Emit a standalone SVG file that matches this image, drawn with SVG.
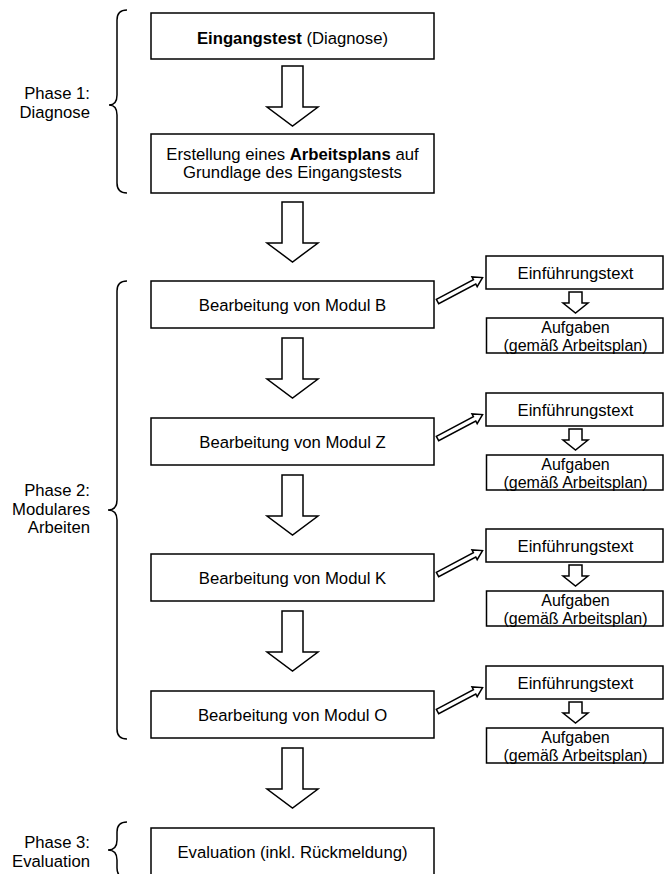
<svg xmlns="http://www.w3.org/2000/svg" width="665" height="874" viewBox="0 0 665 874">
<style>
text{font-family:"Liberation Sans",Arial,sans-serif;font-size:16.7px;fill:#000}
.c{text-anchor:middle}
.r{text-anchor:end}
.b{font-weight:bold}
.s{font-size:16px}
.box{fill:#fff;stroke:#000;stroke-width:1.5}
.arr{fill:#fff;stroke:#000;stroke-width:1.5;stroke-linejoin:miter}
.br{fill:none;stroke:#000;stroke-width:1.5}
</style>
<defs>
<polygon id="bigArrow" class="arr" points="282,0 303,0 303,41 318,41 292.5,60 267,41 282,41"/>
<polygon id="smallArrow" class="arr" points="569,292 582,292 582,303 588,303 575.5,313 563,303 569,303"/>
<polygon id="diagArrow" class="arr" points="0,-2.5 42,-2.5 42,-5.5 51,0 42,5.5 42,2.5 0,2.5"/>
</defs>
<rect width="665" height="874" fill="#fff"/>

<g id="phase1">
<path class="br" d="M127,10 Q117,10 117,20 L117,95 Q117,105 109,105 Q117,105 117,115 L117,183 Q117,193 127,193"/>
<text class="r" x="90" y="99">Phase 1:<tspan x="90" dy="19">Diagnose</tspan></text>
</g>
<g id="phase2">
<path class="br" d="M127,281 Q117,281 117,291 L117,500 Q117,510 108,510 Q117,510 117,520 L117,729 Q117,739 127,739"/>
<text class="r" x="90" y="496">Phase 2:<tspan x="90" dy="19">Modulares</tspan><tspan x="90" dy="18">Arbeiten</tspan></text>
</g>
<g id="phase3">
<path class="br" d="M127,822 Q117,822 117,832 L117,840 Q117,850 108,850 Q117,850 117,860 L117,868 Q117,878 127,878"/>
<text class="r" x="90" y="848">Phase 3:<tspan x="90" dy="19">Evaluation</tspan></text>
</g>

<g id="connectors">
<use href="#bigArrow" y="66"/>
<use href="#bigArrow" y="202"/>
<use href="#bigArrow" y="338"/>
<use href="#bigArrow" y="475"/>
<use href="#bigArrow" y="611"/>
<use href="#bigArrow" y="748"/>
<use href="#smallArrow"/>
<use href="#smallArrow" y="137"/>
<use href="#smallArrow" y="273"/>
<use href="#smallArrow" y="410"/>
<use href="#diagArrow" transform="translate(437.5,301.5) rotate(-28)"/>
<use href="#diagArrow" transform="translate(437.5,438.5) rotate(-28)"/>
<use href="#diagArrow" transform="translate(437.5,574.5) rotate(-28)"/>
<use href="#diagArrow" transform="translate(437.5,711.5) rotate(-28)"/>
</g>

<g id="eingangstest">
<rect class="box" x="151" y="13" width="283" height="46"/>
<text class="c" x="292.5" y="43.5"><tspan class="b">Eingangstest</tspan> (Diagnose)</text>
</g>
<g id="arbeitsplan">
<rect class="box" x="151" y="134" width="283" height="59"/>
<text class="c" x="292.5" y="160">Erstellung eines <tspan class="b">Arbeitsplans</tspan> auf<tspan x="292.5" dy="18">Grundlage des Eingangstests</tspan></text>
</g>

<g id="modulB">
<rect class="box" x="151" y="281" width="283" height="47"/>
<text class="c" x="292.5" y="311">Bearbeitung von Modul B</text>
</g>
<g id="einfB">
<rect class="box" x="486" y="256" width="177" height="33"/>
<text class="c" x="575.5" y="278.5">Einführungstext</text>
</g>
<g id="aufgB">
<rect class="box" x="486.5" y="318" width="176.5" height="35"/>
<text class="c s" x="575.5" y="333">Aufgaben<tspan x="575.5" dy="18">(gemäß Arbeitsplan)</tspan></text>
</g>

<g id="modulZ">
<rect class="box" x="151" y="418" width="283" height="47"/>
<text class="c" x="292.5" y="448">Bearbeitung von Modul Z</text>
</g>
<g id="einfZ">
<rect class="box" x="486" y="393" width="177" height="33"/>
<text class="c" x="575.5" y="415.5">Einführungstext</text>
</g>
<g id="aufgZ">
<rect class="box" x="486.5" y="455" width="176.5" height="35"/>
<text class="c s" x="575.5" y="470">Aufgaben<tspan x="575.5" dy="18">(gemäß Arbeitsplan)</tspan></text>
</g>

<g id="modulK">
<rect class="box" x="151" y="554" width="283" height="47"/>
<text class="c" x="292.5" y="584">Bearbeitung von Modul K</text>
</g>
<g id="einfK">
<rect class="box" x="486" y="529" width="177" height="33"/>
<text class="c" x="575.5" y="551.5">Einführungstext</text>
</g>
<g id="aufgK">
<rect class="box" x="486.5" y="591" width="176.5" height="35"/>
<text class="c s" x="575.5" y="606">Aufgaben<tspan x="575.5" dy="18">(gemäß Arbeitsplan)</tspan></text>
</g>

<g id="modulO">
<rect class="box" x="151" y="691" width="283" height="47"/>
<text class="c" x="292.5" y="721">Bearbeitung von Modul O</text>
</g>
<g id="einfO">
<rect class="box" x="486" y="666" width="177" height="33"/>
<text class="c" x="575.5" y="688.5">Einführungstext</text>
</g>
<g id="aufgO">
<rect class="box" x="486.5" y="728" width="176.5" height="35"/>
<text class="c s" x="575.5" y="743">Aufgaben<tspan x="575.5" dy="18">(gemäß Arbeitsplan)</tspan></text>
</g>

<g id="evaluation">
<rect class="box" x="151" y="828" width="283" height="52"/>
<text class="c" x="292.5" y="857.5">Evaluation (inkl. Rückmeldung)</text>
</g>
</svg>
